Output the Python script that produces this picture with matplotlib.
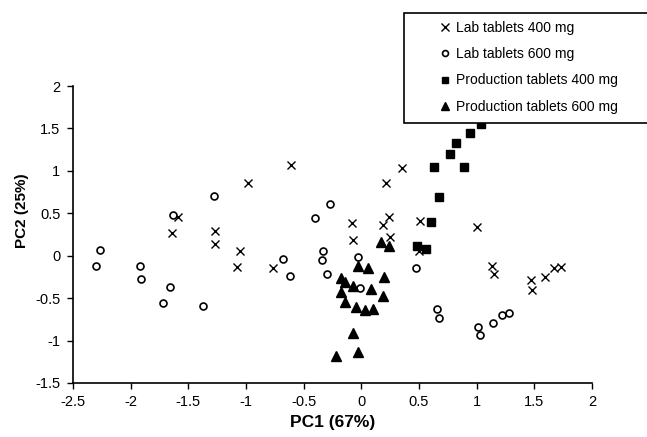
import matplotlib
matplotlib.use("Agg")
import matplotlib.pyplot as plt
from matplotlib.patches import Rectangle

# Данные
lab400_x = [-1.59, -1.64, -1.27, -1.27, -1.05, -1.08, -0.98, -0.61, -0.77, -0.08, -0.07,
            0.19, 0.24, 0.25, 0.21, 0.35, 0.51, 0.50, 1.00, 1.13, 1.15, 1.47, 1.48,
            1.59, 1.67, 1.73]
lab400_y = [0.46, 0.27, 0.29, 0.14, 0.06, -0.13, 0.86, 1.07, -0.15, 0.38, 0.18,
            0.36, 0.46, 0.22, 0.86, 1.03, 0.41, 0.05, 0.34, -0.12, -0.22, -0.29, -0.41,
            -0.25, -0.15, -0.13]

lab600_x = [-2.27, -2.30, -1.92, -1.91, -1.63, -1.66, -1.72, -1.37, -1.28, -0.68, -0.62,
            -0.40, -0.27, -0.33, -0.34, -0.30, -0.03, -0.01, 0.47, 0.66, 0.67, 1.01,
            1.03, 1.14, 1.22, 1.28]
lab600_y = [0.07, -0.12, -0.12, -0.27, 0.48, -0.37, -0.56, -0.59, 0.70, -0.04, -0.24,
            0.44, 0.61, 0.05, -0.05, -0.22, -0.02, -0.38, -0.15, -0.63, -0.73, -0.84,
            -0.94, -0.79, -0.70, -0.67]

prod400_x = [0.48, 0.56, 0.60, 0.67, 0.63, 0.89, 0.77, 0.82, 0.94, 1.04]
prod400_y = [0.12, 0.08, 0.40, 0.69, 1.04, 1.04, 1.20, 1.33, 1.45, 1.55]

prod600_x = [0.17, 0.24, -0.03, 0.06, 0.20, -0.18, -0.14, -0.07, 0.08, -0.18, 0.19,
             -0.14, -0.05, 0.03, 0.10, -0.07, -0.03, -0.22]
prod600_y = [0.16, 0.11, -0.12, -0.15, -0.25, -0.26, -0.31, -0.36, -0.39, -0.43, -0.47,
             -0.54, -0.60, -0.64, -0.63, -0.91, -1.14, -1.18]

labels = ["Lab tablets 400 mg", "Lab tablets 600 mg",
          "Production tablets 400 mg", "Production tablets 600 mg"]

x_ticks = [-2.5, -2, -1.5, -1, -0.5, 0, 0.5, 1, 1.5, 2]
y_ticks = [-1.5, -1, -0.5, 0, 0.5, 1, 1.5, 2]


def fmt(v):
    return f"{v:g}"


def main():
    plt.rcParams["font.family"] = ["Liberation Sans", "DejaVu Sans"]

    fig = plt.figure(figsize=(6.47, 4.37), dpi=100)
    ax = fig.add_axes([0.1128, 0.1236, 0.8022, 0.6796])

    h1, = ax.plot(lab400_x, lab400_y, "x", color="black", ms=6, mew=1.0, ls="none")
    h2, = ax.plot(lab600_x, lab600_y, "o", mfc="white", mec="black", ms=5, mew=1.2, ls="none")
    h3, = ax.plot(prod400_x, prod400_y, "s", color="black", ms=5.5, ls="none")
    h4, = ax.plot(prod600_x, prod600_y, "^", color="black", ms=6.5, ls="none")

    ax.set_xlim(-2.5, 2)
    ax.set_ylim(-1.5, 2)
    ax.set_xticks(x_ticks)
    ax.set_xticklabels([fmt(v) for v in x_ticks])
    ax.set_yticks(y_ticks)
    ax.set_yticklabels([fmt(v) for v in y_ticks])
    ax.tick_params(direction="out", length=4, width=1, labelsize=10.5, pad=5)

    for side in ["top", "right"]:
        ax.spines[side].set_visible(False)
    for side in ["left", "bottom"]:
        ax.spines[side].set_linewidth(1.2)

    ax.set_xlabel("PC1 (67%)", fontsize=12.5, fontweight="bold", labelpad=4)
    ax.set_ylabel("PC2 (25%)", fontsize=11, fontweight="bold")
    ax.yaxis.set_label_coords(-0.085, 0.58)

    # Рамка легенды (выходит за край рисунка, как в оригинале)
    fig.patches.append(Rectangle((404 / 647, 1 - 123 / 437), 250 / 647, 110 / 437,
                                 transform=fig.transFigure, facecolor="white",
                                 edgecolor="black", linewidth=1.2, zorder=3))

    fig.legend([h1, h2, h3, h4], labels, loc="upper left",
               bbox_to_anchor=(440 / 647, 1 - 21 / 437), frameon=False,
               borderaxespad=0, borderpad=0, handlelength=0.7, handletextpad=0.45,
               labelspacing=0.88, fontsize=10, markerscale=0.85)

    fig.savefig("out.png", dpi=100)


if __name__ == "__main__":
    main()
